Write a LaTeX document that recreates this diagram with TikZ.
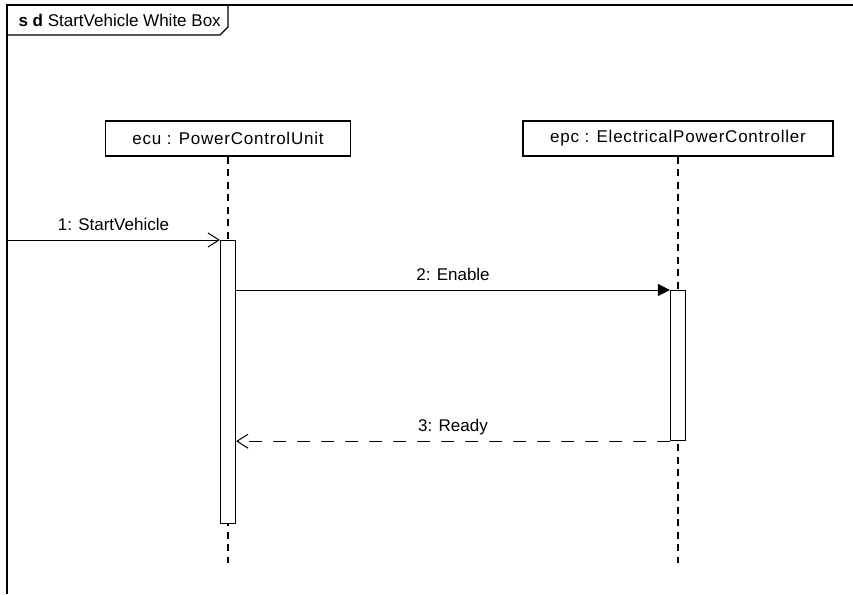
\documentclass[tikz,border=0pt]{standalone}
\usepackage{fontspec}
\setmainfont{Liberation Sans}
\usetikzlibrary{arrows.meta}
\definecolor{SeqInk}{HTML}{000000}
\definecolor{SeqPaper}{HTML}{FFFFFF}

\begin{document}
\begin{tikzpicture}[x=1pt,y=-1pt,
    every node/.style={font=\fontsize{17}{20}\selectfont,text=SeqInk},
    headbox/.style={draw=SeqInk,fill=SeqPaper,line width=1.2pt,minimum height=35pt,inner sep=0pt,
      font=\fontsize{17}{20}\selectfont\addfontfeature{LetterSpace=4.5}},
    actbox/.style={draw=SeqInk,fill=SeqPaper,line width=1.2pt,minimum width=15pt,inner sep=0pt},
    lifeline/.style={SeqInk,line width=1.2pt,dash pattern=on 7pt off 5.5pt},
    msglabel/.style={anchor=base,yshift=10pt},
    call/.style={SeqInk,line width=1pt,-{Triangle[length=12pt,width=12pt]}},
    signal/.style={SeqInk,line width=1pt,-{Straight Barb[length=11pt,width=14pt]}},
    reply/.style={signal,dash pattern=on 13pt off 11pt}]
      \useasboundingbox (0,0) rectangle (853,594);
      % frame and its tab
      \draw[SeqInk,line width=1.3pt] (7,594) -- (7,5) -- (853,5);
      \draw[SeqInk,line width=1.2pt] (7,35) -- (220,35) -- (228,27) -- (228,5);
      \node[anchor=west] (title) at (15,20) {\textbf{s d} StartVehicle White Box};
      % lifelines
      \node[headbox,minimum width=245pt] (ecu) at (228,138.5) {ecu\ : PowerControlUnit};
      \node[headbox,minimum width=310pt] (epc) at (678,138.5) {epc : ElectricalPowerController};
      \coordinate (ecuend) at (228,563);
      \coordinate (epcend) at (678,563);
      \draw[lifeline] (ecu.south) -- (ecuend);
      \draw[lifeline] (epc.south) -- (epcend);
      \node[actbox,minimum height=283pt,anchor=north] (ecuact) at (228,240) {};
      \node[actbox,minimum height=150pt,anchor=north] (epcact) at (678,290) {};
      % messages
      \coordinate (gate) at (7,240);
      \draw[signal] (gate) -- node[msglabel] {1: StartVehicle} (ecuact.north west);
      \draw[call] (ecuact.east |- epcact.north) -- node[msglabel] {2: Enable} (epcact.north west);
      \draw[reply] (epcact.south west) -- node[msglabel] {3: Ready} (ecuact.east |- epcact.south);
    \end{tikzpicture}
\end{document}
